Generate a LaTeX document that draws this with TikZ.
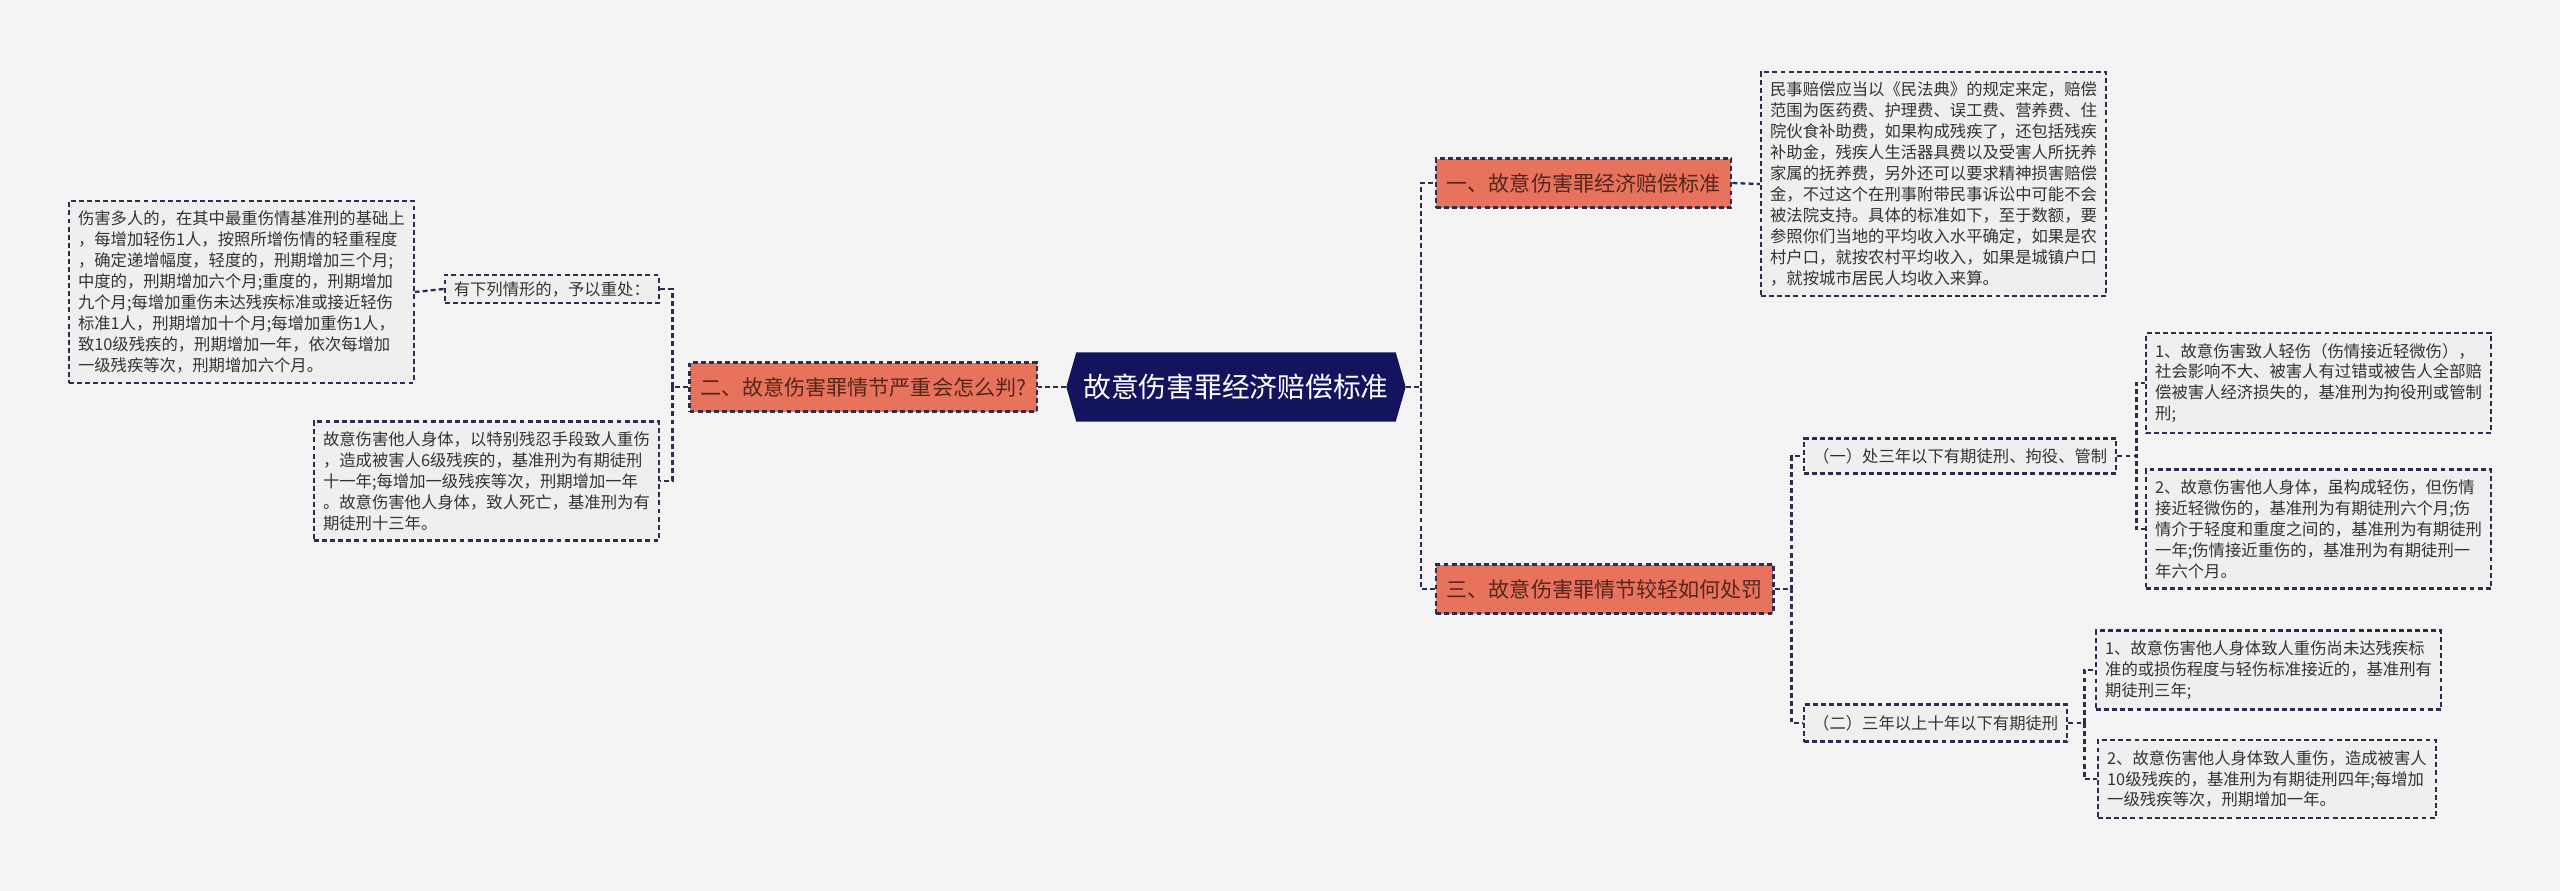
\documentclass[tikz,border=0pt]{standalone}
\usepackage{fontspec}
\setmainfont{Noto Sans CJK SC}
\usetikzlibrary{backgrounds}
\definecolor{bgcol}{HTML}{F4F4F5}
\definecolor{navy}{HTML}{13135E}
\definecolor{salmon}{HTML}{E8735C}
\definecolor{edgecol}{HTML}{2B2F4E}
\definecolor{leafcol}{HTML}{EFEFEF}
\definecolor{txtcol}{HTML}{333333}
\definecolor{brtxt}{HTML}{56261D}

\begin{document}
\begin{tikzpicture}[x=0.1mm,y=-0.1mm,
  dashline/.style={draw=edgecol,line width=0.65pt,dash pattern=on 1.4pt off 0.9pt},
  rootbox/.style={text=white,font=\fontsize{7.9}{9}\selectfont,minimum width=31.8mm,minimum height=6.8mm,inner sep=0pt},
  brbox/.style={dashline,fill=salmon,text=brtxt,font=\fontsize{6}{7}\selectfont,inner xsep=1.05mm,inner ysep=0pt,minimum height=4.9mm},
  leafbox/.style={dashline,fill=leafcol,text=txtcol,font=\fontsize{4.65}{5.95}\selectfont,align=left,inner xsep=0.9mm,inner ysep=1mm},
  link/.style={dashline}]
\useasboundingbox (0,0) rectangle (2560,891);

\node (root) [rootbox] at (1236,387) {故意伤害罪经济赔偿标准};
\begin{scope}[on background layer]
\fill[bgcol] (0,0) rectangle (2560,891);
\fill[navy] (root.north west) -- (root.north east) -- ([xshift=1mm]root.east) -- (root.south east)
  -- (root.south west) -- ([xshift=-1mm]root.west) -- cycle;
\end{scope}

% left branch
\node (two) [brbox,anchor=east] at (1038,387) {二、故意伤害罪情节严重会怎么判?};
\node (lst) [leafbox,anchor=east,minimum height=2.8mm,inner ysep=0pt] at (660,289) {有下列情形的，予以重处：};
\node (big) [leafbox,anchor=east] at (415,292) {伤害多人的，在其中最重伤情基准刑的基础上\\
，每增加轻伤1人，按照所增伤情的轻重程度\\
，确定递增幅度，轻度的，刑期增加三个月;\\
中度的，刑期增加六个月;重度的，刑期增加\\
九个月;每增加重伤未达残疾标准或接近轻伤\\
标准1人，刑期增加十个月;每增加重伤1人，\\
致10级残疾的，刑期增加一年，依次每增加\\
一级残疾等次，刑期增加六个月。};
\node (sev) [leafbox,anchor=east] at (660,481) {故意伤害他人身体，以特别残忍手段致人重伤\\
，造成被害人6级残疾的，基准刑为有期徒刑\\
十一年;每增加一级残疾等次，刑期增加一年\\
。故意伤害他人身体，致人死亡，基准刑为有\\
期徒刑十三年。};

% right branches
\node (one) [brbox,anchor=west] at (1435,183) {一、故意伤害罪经济赔偿标准};
\node (civil) [leafbox,anchor=west] at (1760,184) {民事赔偿应当以《民法典》的规定来定，赔偿\\
范围为医药费、护理费、误工费、营养费、住\\
院伙食补助费，如果构成残疾了，还包括残疾\\
补助金，残疾人生活器具费以及受害人所抚养\\
家属的抚养费，另外还可以要求精神损害赔偿\\
金，不过这个在刑事附带民事诉讼中可能不会\\
被法院支持。具体的标准如下，至于数额，要\\
参照你们当地的平均收入水平确定，如果是农\\
村户口，就按农村平均收入，如果是城镇户口\\
，就按城市居民人均收入来算。};

\node (three) [brbox,anchor=west] at (1435,589) {三、故意伤害罪情节较轻如何处罚};
\node (g1) [leafbox,anchor=west,minimum height=3.5mm,inner ysep=0pt] at (1803,456) {（一）处三年以下有期徒刑、拘役、管制};
\node (g2) [leafbox,anchor=west,minimum height=3.7mm,inner ysep=0pt] at (1803,723) {（二）三年以上十年以下有期徒刑};

\node (a1) [leafbox,anchor=west] at (2145,383) {1、故意伤害致人轻伤（伤情接近轻微伤），\\
社会影响不大、被害人有过错或被告人全部赔\\
偿被害人经济损失的，基准刑为拘役刑或管制\\
刑;};
\node (a2) [leafbox,anchor=west] at (2145,529) {2、故意伤害他人身体，虽构成轻伤，但伤情\\
接近轻微伤的，基准刑为有期徒刑六个月;伤\\
情介于轻度和重度之间的，基准刑为有期徒刑\\
一年;伤情接近重伤的，基准刑为有期徒刑一\\
年六个月。};
\node (b1) [leafbox,anchor=west] at (2095,670) {1、故意伤害他人身体致人重伤尚未达残疾标\\
准的或损伤程度与轻伤标准接近的，基准刑有\\
期徒刑三年;};
\node (b2) [leafbox,anchor=west] at (2097,779) {2、故意伤害他人身体致人重伤，造成被害人\\
10级残疾的，基准刑为有期徒刑四年;每增加\\
一级残疾等次，刑期增加一年。};

% connectors
\draw[link] ([xshift=-1mm]root.west) -- (two.east);
\draw[link] (two.west) -- ++(-16,0) |- (lst.east);
\draw[link] (two.west) -- ++(-16,0) |- (sev.east);
\draw[link] (lst.west) -- (big.east);
\draw[link] ([xshift=1mm]root.east) -- ++(15,0) |- (one.west);
\draw[link] ([xshift=1mm]root.east) -- ++(15,0) |- (three.west);
\draw[link] (one.east) -- (civil.west);
\draw[link] (three.east) -- ++(17,0) |- (g1.west);
\draw[link] (three.east) -- ++(17,0) |- (g2.west);
\draw[link] (g1.east) -- ++(19,0) |- (a1.west);
\draw[link] (g1.east) -- ++(19,0) |- (a2.west);
\draw[link] (g2.east) -- ++(16,0) |- (b1.west);
\draw[link] (g2.east) -- ++(16,0) |- (b2.west);
\end{tikzpicture}
\end{document}
